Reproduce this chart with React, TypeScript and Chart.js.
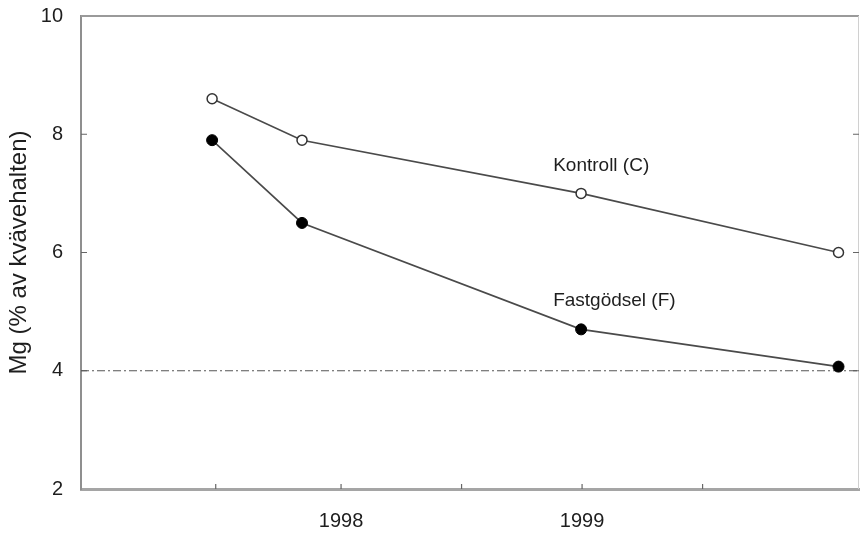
import React, { useEffect, useRef } from "react";
import { Chart, registerables } from "chart.js";

Chart.register(...registerables);

// ---- data ----
const SAMPLE_X = [1997.465, 1997.838, 1998.996, 2000.064];
const KONTROLL = [8.6, 7.9, 7.0, 6.0];
const FASTGODSEL = [7.9, 6.5, 4.7, 4.07];
const REF_LEVEL = 4;

const X_MIN = 1996.921;
const X_MAX = 2000.149;
const X_TICKS = [1997.48, 1998, 1998.5, 1999, 1999.5];
const X_LABELED = [1998, 1999];

const Y_MIN = 2;
const Y_MAX = 10;
const Y_STEP = 2;
const Y_INNER_TICKS = [4, 6, 8];

const SERIES_NAMES = ["Kontroll (C)", "Fastgödsel (F)"];
const LABEL_X = [1998.88, 1998.88];
const LABEL_Y = [7.46, 5.19];
const Y_TITLE = "Mg (% av kvävehalten)";

const FONT = "'Liberation Sans', Arial, Helvetica, sans-serif";
const TEXT_COLOR = "#1e1e1e";

const framePlugin = {
  id: "frame",
  beforeDatasetsDraw(chart: any) {
    const { ctx, chartArea: a, scales } = chart;
    const xs = scales.x;
    const ys = scales.y;
    ctx.save();
    // top border
    ctx.strokeStyle = "#9a9a9a";
    ctx.lineWidth = 2;
    ctx.beginPath();
    ctx.moveTo(a.left, a.top);
    ctx.lineTo(a.right, a.top);
    ctx.stroke();
    // right border
    ctx.strokeStyle = "#d0d0d0";
    ctx.lineWidth = 1;
    ctx.beginPath();
    ctx.moveTo(a.right - 0.5, a.top);
    ctx.lineTo(a.right - 0.5, a.bottom);
    ctx.stroke();
    // inward ticks
    ctx.strokeStyle = "#666";
    ctx.lineWidth = 1.2;
    Y_INNER_TICKS.forEach((v) => {
      const y = ys.getPixelForValue(v);
      ctx.beginPath();
      ctx.moveTo(a.left, y);
      ctx.lineTo(a.left + 6, y);
      ctx.moveTo(a.right, y);
      ctx.lineTo(a.right - 6, y);
      ctx.stroke();
    });
    X_TICKS.forEach((v) => {
      const x = xs.getPixelForValue(v);
      ctx.beginPath();
      ctx.moveTo(x, a.bottom);
      ctx.lineTo(x, a.bottom - 5);
      ctx.stroke();
    });
    ctx.restore();
  },
  afterDraw(chart: any) {
    const { ctx, scales } = chart;
    ctx.save();
    ctx.fillStyle = TEXT_COLOR;
    ctx.font = `19px ${FONT}`;
    ctx.textAlign = "left";
    ctx.textBaseline = "middle";
    SERIES_NAMES.forEach((name, i) => {
      ctx.fillText(
        name,
        scales.x.getPixelForValue(LABEL_X[i]),
        scales.y.getPixelForValue(LABEL_Y[i])
      );
    });
    ctx.restore();
  },
};

export default function App() {
  const ref = useRef<HTMLCanvasElement | null>(null);

  useEffect(() => {
    document.body.style.margin = "0";
    const canvas = ref.current;
    if (!canvas) return;
    Chart.defaults.font.family = FONT;

    const chart = new Chart(canvas, {
      type: "scatter",
      data: {
        datasets: [
          {
            label: SERIES_NAMES[0],
            data: SAMPLE_X.map((x, i) => ({ x, y: KONTROLL[i] })),
            showLine: true,
            borderColor: "#4a4a4a",
            borderWidth: 1.6,
            pointRadius: 5,
            pointBackgroundColor: "#ffffff",
            pointBorderColor: "#333333",
            pointBorderWidth: 1.5,
            order: 1,
          },
          {
            label: SERIES_NAMES[1],
            data: SAMPLE_X.map((x, i) => ({ x, y: FASTGODSEL[i] })),
            showLine: true,
            borderColor: "#4a4a4a",
            borderWidth: 1.6,
            pointRadius: 5.5,
            pointBackgroundColor: "#000000",
            pointBorderColor: "#000000",
            pointBorderWidth: 1,
            order: 0,
          },
          {
            label: "ref",
            data: [
              { x: X_MIN, y: REF_LEVEL },
              { x: X_MAX, y: REF_LEVEL },
            ],
            showLine: true,
            borderColor: "#555555",
            borderWidth: 1.2,
            borderDash: [8, 3, 2, 3],
            pointRadius: 0,
            order: 2,
          },
        ],
      },
      options: {
        responsive: false,
        animation: false,
        layout: {
          autoPadding: false,
          padding: { top: 16, right: 1, left: 0, bottom: 0 },
        },
        plugins: {
          legend: { display: false },
          tooltip: { enabled: false },
        },
        scales: {
          x: {
            type: "linear",
            min: X_MIN,
            max: X_MAX,
            afterBuildTicks: (s: any) => {
              s.ticks = X_TICKS.map((v) => ({ value: v }));
            },
            afterFit: (s: any) => {
              s.height = 44;
              s.paddingLeft = 0;
              s.paddingRight = 0;
            },
            ticks: {
              autoSkip: false,
              maxRotation: 0,
              padding: 0,
              color: TEXT_COLOR,
              font: { size: 20, lineHeight: 3.2 },
              callback: (v: any) =>
                X_LABELED.includes(Number(v)) ? String(v) : "",
            },
            grid: { display: true, drawOnChartArea: false, drawTicks: false },
            border: { display: true, color: "#a5a5a5", width: 3 },
          },
          y: {
            type: "linear",
            min: Y_MIN,
            max: Y_MAX,
            afterFit: (s: any) => {
              s.width = 81;
              s.paddingTop = 0;
              s.paddingBottom = 0;
            },
            ticks: {
              stepSize: Y_STEP,
              padding: 18,
              color: TEXT_COLOR,
              font: { size: 20 },
            },
            title: {
              display: true,
              text: Y_TITLE,
              color: TEXT_COLOR,
              font: { size: 24 },
              padding: { top: 5, bottom: 0 },
            },
            grid: { display: true, drawOnChartArea: false, drawTicks: false },
            border: { display: true, color: "#8f8f8f", width: 2 },
          },
        },
      },
      plugins: [framePlugin],
    } as any);

    return () => chart.destroy();
  }, []);

  return (
    <div style={{ width: 860, height: 533, background: "#fff" }}>
      <canvas
        ref={ref}
        width={860}
        height={533}
        style={{ display: "block" }}
      />
    </div>
  );
}
